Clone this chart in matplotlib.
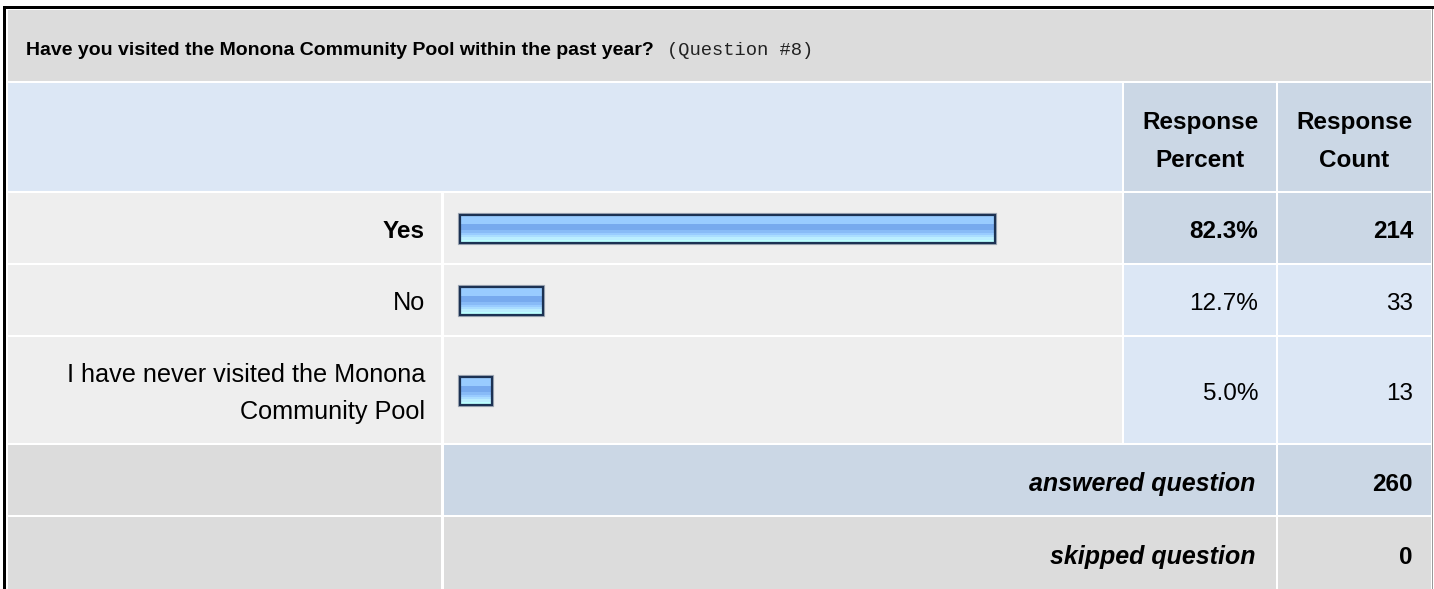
import numpy as np
import matplotlib.pyplot as plt
from matplotlib.patches import Rectangle

question = "Have you visited the Monona Community Pool within the past year?"
question_no = "(Question #8)"
answers = ["Yes", "No", "I have never visited the Monona\nCommunity Pool"]
percents = [82.3, 12.7, 5.0]
counts = [214, 33, 13]
answered = 260
skipped = 0

plt.rcParams['font.family'] = ['Liberation Sans', 'DejaVu Sans']

W, H = 1434, 589
fig = plt.figure(figsize=(W / 100, H / 100), dpi=100)
ax = fig.add_axes([0, 0, 1, 1])
ax.set_xlim(0, W)
ax.set_ylim(H, 0)
ax.axis('off')

# column edges (label, bar, percent, count) and row spans, in pixels
cols = [(8, 441), (444, 1122), (1124, 1276), (1278, 1431)]
rows = [(10, 81), (83, 191), (193, 263), (265, 335), (337, 443), (445, 515), (517, 589)]

GREY = '#dcdcdc'
LIGHT = '#eeeeee'
BLUE = '#dce7f5'
BLUE2 = '#cbd7e5'
fs = 17.5


def cell(x0, x1, r, color):
    y0, y1 = rows[r]
    ax.add_patch(Rectangle((x0, y0), x1 - x0, y1 - y0, facecolor=color, edgecolor='none'))


# outer frame
ax.add_patch(Rectangle((3, 6), W - 3, 3, facecolor='black', edgecolor='none'))
ax.add_patch(Rectangle((3, 6), 3, H - 6, facecolor='black', edgecolor='none'))
ax.add_patch(Rectangle((1431.5, 9), 1.2, H - 9, facecolor='#999999', edgecolor='none'))

# title row
cell(cols[0][0], cols[3][1], 0, GREY)
t = ax.text(26, 55, question, fontsize=14, fontweight='bold', ha='left', va='baseline')
ax.annotate(question_no, xy=(1, 0), xycoords=t, xytext=(13, 0), textcoords='offset pixels',
            fontsize=13.5, family='Liberation Mono', color='#222222', ha='left', va='bottom')

# header row
cell(cols[0][0], cols[1][1], 1, BLUE)
cell(*cols[2], 1, BLUE2)
cell(*cols[3], 1, BLUE2)
for c, word in [(cols[2], "Percent"), (cols[3], "Count")]:
    xc = (c[0] + c[1]) / 2
    ax.text(xc, 129, "Response", fontsize=fs, fontweight='bold', ha='center', va='baseline')
    ax.text(xc, 167, word, fontsize=fs, fontweight='bold', ha='center', va='baseline')

# answer rows
top = int(np.argmax(percents))
for i, (lab, p, n) in enumerate(zip(answers, percents, counts)):
    r = i + 2
    w = 'bold' if i == top else 'normal'
    cell(*cols[0], r, LIGHT)
    cell(*cols[1], r, LIGHT)
    cell(*cols[2], r, BLUE2 if i == top else BLUE)
    cell(*cols[3], r, BLUE2 if i == top else BLUE)
    yc = (rows[r][0] + rows[r][1]) / 2
    lines = lab.split('\n')
    for k, line in enumerate(lines):
        yb = yc + 10 + (k - (len(lines) - 1) / 2) * 37
        ax.text(425, yb, line, fontsize=fs if i == top else 18.2, fontweight=w, ha='right', va='baseline')
    ax.text(1258, yc + 10, f"{p:.1f}%", fontsize=fs, fontweight=w, ha='right', va='baseline')
    ax.text(1413, yc + 10, f"{n}", fontsize=fs, fontweight=w, ha='right', va='baseline')

# summary rows
for r, lab, val, mid in [(5, "answered question", answered, BLUE2), (6, "skipped question", skipped, GREY)]:
    cell(*cols[0], r, GREY)
    cell(cols[1][0], cols[2][1], r, mid)
    cell(*cols[3], r, mid)
    yc = (rows[r][0] + rows[r][1]) / 2
    ax.text(1255, yc + 11, lab, fontsize=18, fontweight='bold', style='italic', ha='right', va='baseline')
    ax.text(1413, yc + 11, f"{val}", fontsize=fs, fontweight='bold', ha='right', va='baseline')

# bars
y_top, y_bot = rows[2][0], rows[4][1]
bx0, bx1 = cols[1]
bax = fig.add_axes([bx0 / W, 1 - y_bot / H, (bx1 - bx0) / W, (y_bot - y_top) / H])
bax.axis('off')
pxp = 6.5  # pixels per percent
centers = [(rows[r][0] + rows[r][1]) / 2 + 1 for r in (2, 3, 4)]

stripes = ['#99ccff'] * 8 + ['#77aaee'] * 5 + ['#88bbf7'] * 3 + ['#99ccff'] * 2 + \
          ['#aaddff'] * 2 + ['#bbeeff'] * 2 + ['#bbffff'] * 3
grad = np.array([[plt.matplotlib.colors.to_rgb(c)] for c in stripes])

bax.barh(centers, percents, height=28, facecolor='none', edgecolor='#a4acb8', linewidth=3, zorder=1)
bars = bax.barh(centers, percents, height=28, facecolor='none', edgecolor='#1c3253', linewidth=1.6, zorder=3)
for b in bars:
    bax.imshow(grad, extent=(b.get_x(), b.get_x() + b.get_width(), b.get_y() + b.get_height(), b.get_y()),
               aspect='auto', interpolation='nearest', zorder=2)
bax.set_xlim(-16 / pxp, (bx1 - bx0 - 16) / pxp)
bax.set_ylim(y_bot, y_top)

fig.savefig("out.png", dpi=100)
